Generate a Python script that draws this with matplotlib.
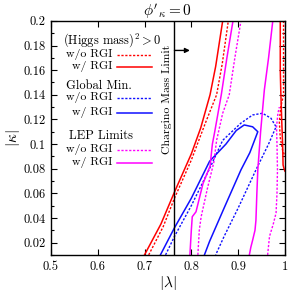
import matplotlib
matplotlib.use('Agg')
import matplotlib.pyplot as plt

plt.rcParams['font.family'] = 'serif'
plt.rcParams['font.serif'] = ['cmr10', 'DejaVu Serif']
plt.rcParams['mathtext.fontset'] = 'cm'
plt.rcParams['axes.unicode_minus'] = False

# (Higgs mass)^2 > 0 boundaries
red_rgi_x = [0.700, 0.735, 0.764, 0.800, 0.820, 0.840, 0.852, 0.867]
red_rgi_y = [0.010, 0.035, 0.061, 0.092, 0.113, 0.140, 0.163, 0.200]
red_norgi_x = [0.709, 0.740, 0.764, 0.800, 0.830, 0.854, 0.866, 0.879]
red_norgi_y = [0.010, 0.033, 0.056, 0.087, 0.117, 0.140, 0.165, 0.200]
red_rgi2_x = [0.990, 0.990, 0.991, 0.993, 0.995, 0.996, 0.998, 1.000]
red_rgi2_y = [0.200, 0.160, 0.144, 0.120, 0.100, 0.083, 0.080, 0.078]
red_norgi2_x = [0.997, 0.997, 0.991, 0.988, 0.990, 0.995, 1.000]
red_norgi2_y = [0.200, 0.140, 0.130, 0.118, 0.105, 0.095, 0.090]

# global minimum regions
blue_rgi_x = [0.734, 0.764, 0.800, 0.839, 0.874, 0.896, 0.913, 0.931, 0.942,
              0.925, 0.906, 0.870, 0.839, 0.828]
blue_rgi_y = [0.010, 0.032, 0.056, 0.086, 0.100, 0.111, 0.1155, 0.114, 0.110,
              0.093, 0.079, 0.048, 0.021, 0.010]
blue_norgi_x = [0.745, 0.764, 0.800, 0.839, 0.867, 0.906, 0.931, 0.952, 0.970,
                0.981, 0.965, 0.938, 0.900, 0.870, 0.852]
blue_norgi_y = [0.010, 0.025, 0.050, 0.080, 0.103, 0.117, 0.1236, 0.125, 0.121,
                0.114, 0.100, 0.079, 0.048, 0.025, 0.010]

# LEP limits
mag_rgi_x = [0.797, 0.800, 0.802, 0.810, 0.825, 0.840, 0.845, 0.850, 0.864, 0.876, 0.889]
mag_rgi_y = [0.010, 0.030, 0.041, 0.045, 0.068, 0.082, 0.100, 0.110, 0.140, 0.170, 0.200]
mag_norgi_x = [0.814, 0.817, 0.821, 0.835, 0.848, 0.854, 0.867, 0.881, 0.893, 0.906]
mag_norgi_y = [0.010, 0.030, 0.041, 0.065, 0.085, 0.103, 0.125, 0.140, 0.170, 0.200]
mag_rgi2_x = [0.924, 0.927, 0.931, 0.936, 0.938, 0.940, 0.942, 0.948, 0.956, 0.965, 0.974]
mag_rgi2_y = [0.010, 0.016, 0.022, 0.030, 0.038, 0.060, 0.079, 0.110, 0.144, 0.170, 0.200]
mag_norgi2_x = [0.963, 0.967, 0.975, 0.981, 0.983, 0.984, 0.983, 0.982, 0.985, 0.988]
mag_norgi2_y = [0.010, 0.025, 0.035, 0.044, 0.060, 0.079, 0.100, 0.114, 0.125, 0.130]

chargino_limit = 0.764

xticks = [0.5, 0.6, 0.7, 0.8, 0.9, 1.0]
xticklabels = ['0.5', '0.6', '0.7', '0.8', '0.9', '1']
yticks = [0.02, 0.04, 0.06, 0.08, 0.1, 0.12, 0.14, 0.16, 0.18, 0.2]
yticklabels = ['0.02', '0.04', '0.06', '0.08', '0.1', '0.12', '0.14', '0.16', '0.18', '0.2']

red = '#ff0000'
blue = '#1010ff'
mag = '#ff00ff'
dash = (0, (1.6, 1.2))

fig = plt.figure(figsize=(2.89, 2.94), dpi=100)
ax = fig.add_axes([0.176, 0.133, 0.810, 0.796])

ax.plot(red_rgi_x, red_rgi_y, color=red, lw=1.1)
ax.plot(red_norgi_x, red_norgi_y, color=red, lw=1.0, ls=dash)
ax.plot(red_rgi2_x, red_rgi2_y, color=red, lw=1.1)
ax.plot(red_norgi2_x, red_norgi2_y, color=red, lw=1.0, ls=dash)
ax.plot(blue_rgi_x, blue_rgi_y, color=blue, lw=1.1)
ax.plot(blue_norgi_x, blue_norgi_y, color=blue, lw=1.0, ls=dash)
ax.plot(mag_rgi_x, mag_rgi_y, color=mag, lw=1.1)
ax.plot(mag_norgi_x, mag_norgi_y, color=mag, lw=1.0, ls=dash)
ax.plot(mag_rgi2_x, mag_rgi2_y, color=mag, lw=1.1)
ax.plot(mag_norgi2_x, mag_norgi2_y, color=mag, lw=1.0, ls=dash)

ax.axvline(chargino_limit, color='black', lw=1.0)
ax.annotate('', xy=(0.797, 0.176), xytext=(chargino_limit, 0.176),
            arrowprops=dict(arrowstyle='-|>', color='black', lw=1.0,
                            mutation_scale=7, shrinkA=0, shrinkB=0))
ax.text(0.748, 0.1365, 'Chargino Mass Limit', rotation=90, fontsize=8.5,
        ha='center', va='center')

ax.set_xlim(0.5, 1.0)
ax.set_ylim(0.01, 0.2)
ax.set_xticks(xticks)
ax.set_xticklabels(xticklabels)
ax.set_yticks(yticks)
ax.set_yticklabels(yticklabels)
ax.set_yticks([0.01 + 0.02 * i for i in range(10)], minor=True)
ax.tick_params(which='both', direction='in', top=True, right=True, labelsize=9)
ax.tick_params(which='major', length=4, width=0.8, pad=4)
ax.tick_params(which='minor', length=2.5, width=0.8)
for s in ax.spines.values():
    s.set_linewidth(1.0)

ax.set_xlabel(r'$|\lambda|$', fontsize=11, labelpad=1)
ax.set_ylabel(r'$|\kappa|$', fontsize=11, labelpad=1)
ax.set_title(r"$\phi'_\kappa = 0$", fontsize=11, pad=3)

# legend built by hand, grouped by constraint
groups = [
    ('(Higgs mass)$^2 > 0$', 0.052, 0.919, red, 0.855, 0.803),
    ('Global Min.', 0.065, 0.722, blue, 0.671, 0.607),
    ('LEP Limits', 0.078, 0.509, mag, 0.449, 0.393),
]
for head, hx, hy, col, y1, y2 in groups:
    ax.text(hx, hy, head, transform=ax.transAxes, fontsize=9, ha='left', va='center')
    ax.text(0.262, y1, 'w/o RGI', transform=ax.transAxes, fontsize=8.5, ha='right', va='center')
    ax.text(0.262, y2, 'w/ RGI', transform=ax.transAxes, fontsize=8.5, ha='right', va='center')
    ax.plot([0.283, 0.433], [y1, y1], transform=ax.transAxes, color=col, lw=1.0, ls=dash)
    ax.plot([0.283, 0.433], [y2, y2], transform=ax.transAxes, color=col, lw=1.1)

fig.savefig('out.png', dpi=100)
